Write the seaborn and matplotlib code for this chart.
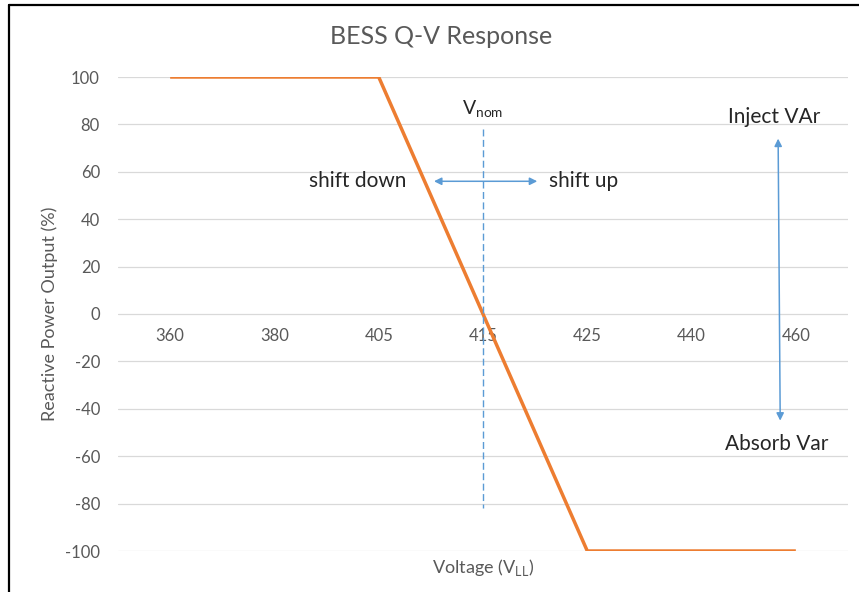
import matplotlib
matplotlib.use("Agg")
import matplotlib.pyplot as plt
from matplotlib.lines import Line2D
import pandas as pd
import seaborn as sns

# chart values
voltage_labels = ["360", "380", "405", "415", "425", "440", "460"]
q_output = [100, 100, 100, 0, -100, -100, -100]
y_ticks = [100, 80, 60, 40, 20, 0, -20, -40, -60, -80, -100]

data = pd.DataFrame({"pos": range(len(voltage_labels)),
                     "voltage": voltage_labels,
                     "q": q_output})

sns.set_style("white")
plt.rcParams['font.family'] = ['Lato', 'DejaVu Sans']
plt.rcParams['axes.unicode_minus'] = False

GRAY = "#595959"
ORANGE = "#ED7D31"
BLUE = "#5B9BD5"

fig = plt.figure(figsize=(8.59, 5.92), dpi=100)
ax = fig.add_axes([118/859, 1-551/592, 730/859, 474/592])

sns.lineplot(data=data, x="pos", y="q", ax=ax, color=ORANGE, linewidth=2.5,
             solid_capstyle="butt")

ax.set_xlim(-0.5, len(voltage_labels) - 0.5)
ax.set_ylim(-100, 100)
ax.set_yticks(y_ticks)
ax.set_xticks(data["pos"])
ax.set_xticklabels(voltage_labels)
ax.grid(axis="y", color="#D9D9D9", linewidth=0.9)
ax.set_axisbelow(True)
for s in ax.spines.values():
    s.set_visible(False)
ax.spines["bottom"].set_position(("data", 0))
ax.tick_params(axis="both", length=0, labelsize=12, labelcolor=GRAY)
ax.tick_params(axis="x", pad=10)
ax.tick_params(axis="y", pad=13)
ax.set_xlabel("")
ax.set_ylabel("")

fig.text(50/859, 1-314/592, "Reactive Power Output (%)", rotation=90,
         ha="center", va="center", fontsize=13, color=GRAY)
fig.text(483/859, 1-567/592, r"Voltage (V$_\mathregular{LL}$)", ha="center",
         va="center", fontsize=13, color=GRAY)
fig.text(441/859, 1-37/592, "BESS Q-V Response", ha="center", va="center",
         fontsize=18, color=GRAY)

# annotations
ax.plot([3, 3], [78, -82], color=BLUE, linewidth=1, linestyle=(0, (5, 2.5)))
ax.text(3, 82, r"V$_\mathregular{nom}$", ha="center", va="bottom", fontsize=14)
ax.annotate("", xy=(2.53, 56), xytext=(3.52, 56),
            arrowprops=dict(arrowstyle="<|-|>", color=BLUE, lw=1.1,
                            mutation_scale=11, shrinkA=0, shrinkB=0))
ax.text(2.27, 56, "shift down", ha="right", va="center", fontsize=15)
ax.text(3.63, 56, "shift up", ha="left", va="center", fontsize=15)
ax.annotate("", xy=(5.83, 74), xytext=(5.85, -45),
            arrowprops=dict(arrowstyle="<|-|>", color=BLUE, lw=1.1,
                            mutation_scale=11, shrinkA=0, shrinkB=0))
ax.text(5.79, 83, "Inject VAr", ha="center", va="center", fontsize=15)
ax.text(5.82, -55, "Absorb Var", ha="center", va="center", fontsize=15)

# frame of the screenshot
fig.add_artist(Line2D([9/859, 9/859], [0, 1-5/592], color="black", lw=1.6,
                      transform=fig.transFigure))
fig.add_artist(Line2D([9/859, 1], [1-5/592, 1-5/592], color="black", lw=1.6,
                      transform=fig.transFigure))

fig.savefig("out.png", dpi=100)
